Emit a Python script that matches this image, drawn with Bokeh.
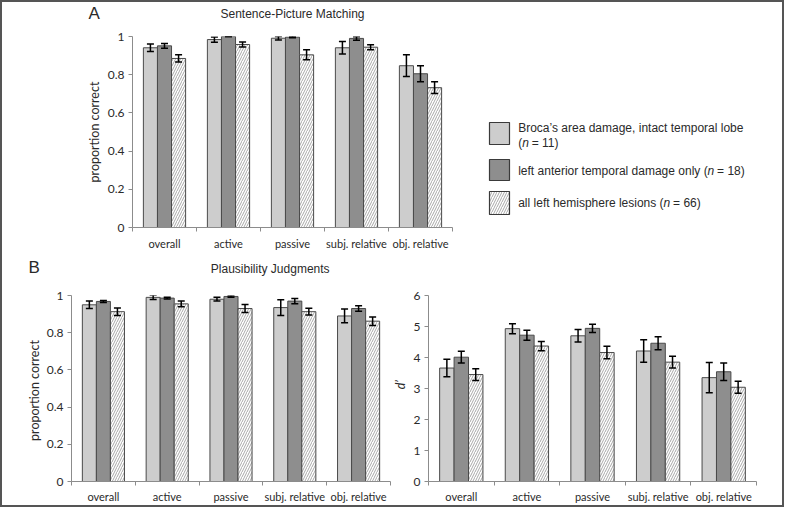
import numpy as np
from bokeh.plotting import figure
from bokeh.models import Range1d, FixedTicker, ColumnDataSource, Whisker, TeeHead
from bokeh.layouts import column, row
from bokeh.embed import file_html
from bokeh.resources import INLINE
from bokeh.core.properties import value

# ---------------- data ----------------
categories = ["overall", "active", "passive", "subj. relative", "obj. relative"]
group_names = ["Broca\u2019s area damage, intact temporal lobe",
               "left anterior temporal damage only",
               "all left hemisphere lesions"]
group_n = ["11", "18", "66"]

# A: Sentence-Picture Matching (proportion correct)
spm_broca = [0.941, 0.984, 0.991, 0.941, 0.847]
spm_broca_err = [0.020, 0.014, 0.009, 0.033, 0.057]
spm_temporal = [0.951, 1.000, 0.997, 0.990, 0.805]
spm_temporal_err = [0.013, 0.0, 0.003, 0.009, 0.042]
spm_all = [0.885, 0.958, 0.904, 0.944, 0.732]
spm_all_err = [0.019, 0.013, 0.026, 0.013, 0.031]

# B: Plausibility Judgments (proportion correct)
pj_broca = [0.950, 0.990, 0.980, 0.935, 0.890]
pj_broca_err = [0.020, 0.011, 0.010, 0.042, 0.037]
pj_temporal = [0.968, 0.986, 0.995, 0.970, 0.930]
pj_temporal_err = [0.005, 0.005, 0.004, 0.014, 0.015]
pj_all = [0.913, 0.955, 0.930, 0.913, 0.862]
pj_all_err = [0.020, 0.016, 0.021, 0.018, 0.023]

# B: Plausibility Judgments (d')
dp_broca = [3.66, 4.93, 4.70, 4.21, 3.35]
dp_broca_err = [0.28, 0.16, 0.20, 0.36, 0.49]
dp_temporal = [4.01, 4.72, 4.94, 4.46, 3.54]
dp_temporal_err = [0.19, 0.16, 0.13, 0.21, 0.28]
dp_all = [3.45, 4.37, 4.16, 3.85, 3.04]
dp_all_err = [0.19, 0.15, 0.20, 0.19, 0.19]

prop_ticks = [0, 0.2, 0.4, 0.6, 0.8, 1]
prop_tick_labels = ["0", "0.2", "0.4", "0.6", "0.8", "1"]
dp_ticks = [0, 1, 2, 3, 4, 5, 6]
dp_tick_labels = ["0", "1", "2", "3", "4", "5", "6"]

title_A = "Sentence-Picture Matching"
title_B = "Plausibility Judgments"
ylabel_prop = "proportion correct"
ylabel_dp = "d\u2019"

# ---------------- style ----------------
LIGHT = "#cdcdcd"
DARK = "#8e8e8e"
EDGE = "#4a4a4a"
AXIS = "#8c8c8c"
TXT = "#2a2a2a"
TICK_FONT = "Lato"
SANS = "Liberation Sans"
BAR_W = 0.22
OFFSETS = [-BAR_W, 0.0, BAR_W]
STYLES = [dict(fill_color=LIGHT),
          dict(fill_color=DARK),
          dict(fill_color="white", hatch_pattern="/", hatch_color="#a8a8a8",
               hatch_scale=5, hatch_weight=1)]


def panel(width, height, bl, br, bt, bb, ymax, yticks, ylabels, xlabel_standoff, series):
    p = figure(width=width, height=height, x_range=Range1d(0, len(categories)),
               y_range=Range1d(0, ymax), output_backend="svg", toolbar_location=None,
               min_border_left=bl, min_border_right=br, min_border_top=bt,
               min_border_bottom=bb)
    p.outline_line_color = None
    p.xgrid.visible = False
    p.ygrid.visible = False
    centers = [i + 0.5 for i in range(len(categories))]
    srcs = []
    for k, (vals, errs) in enumerate(series):
        v = np.array(vals, dtype=float)
        e = np.array(errs, dtype=float)
        src = ColumnDataSource(dict(x=[c + OFFSETS[k] for c in centers], top=v,
                                    upper=v + e, lower=v - e))
        p.vbar(x="x", top="top", bottom=0, width=BAR_W, source=src,
               line_color=EDGE, line_width=1, **STYLES[k])
        srcs.append(src)
    for src in srcs:
        w = Whisker(source=src, base="x", upper="upper", lower="lower",
                    line_color="black", line_width=1.5, level="overlay",
                    upper_head=TeeHead(size=7, line_color="black", line_width=1.5),
                    lower_head=TeeHead(size=7, line_color="black", line_width=1.5))
        p.add_layout(w)

    xa = p.xaxis[0]
    xa.ticker = FixedTicker(ticks=centers, minor_ticks=list(range(len(categories) + 1)))
    xa.major_label_overrides = {float(c): name for c, name in zip(centers, categories)}
    xa.major_tick_out = 0
    xa.major_tick_in = 0
    xa.minor_tick_out = 4
    xa.minor_tick_in = 0
    xa.axis_line_color = AXIS
    xa.minor_tick_line_color = AXIS
    xa.major_label_text_font = TICK_FONT
    xa.major_label_text_font_size = "11px"
    xa.major_label_text_color = TXT
    xa.major_label_standoff = xlabel_standoff

    ya = p.yaxis[0]
    ya.ticker = FixedTicker(ticks=yticks, minor_ticks=[])
    ya.major_label_overrides = {float(t): s for t, s in zip(yticks, ylabels)}
    ya.major_tick_out = 4
    ya.major_tick_in = 0
    ya.minor_tick_out = 0
    ya.minor_tick_in = 0
    ya.axis_line_color = AXIS
    ya.major_tick_line_color = AXIS
    ya.major_label_text_font = TICK_FONT
    ya.major_label_text_font_size = "12px"
    ya.major_label_text_color = TXT
    ya.major_label_standoff = 4
    return p


def textfig(x0, x1, y0, y1):
    """A blank canvas whose data coordinates are page pixels (for titles/labels)."""
    f = figure(width=x1 - x0, height=y1 - y0, x_range=Range1d(x0, x1),
               y_range=Range1d(y1, y0), output_backend="svg", toolbar_location=None,
               min_border_left=0, min_border_right=0, min_border_top=0,
               min_border_bottom=0)
    f.axis.visible = False
    f.grid.visible = False
    f.outline_line_color = None
    return f


def put(f, x, y, text, size="12px", font=SANS, style="normal", angle=0.0, align="center"):
    f.text(x=[x], y=[y], text=[text], angle=angle, text_font=value(font),
           text_font_size=size, text_font_style=style, text_color=TXT,
           text_align=align, text_baseline="middle")


# ---------------- top row: panel A + legend ----------------
sideA = textfig(10, 110, 10, 260)
put(sideA, 101.7, 20.5, "A", size="17px")
put(sideA, 102.3, 139.5, ylabel_prop, size="12.5px", font=TICK_FONT, angle=np.pi / 2)

hdrA = textfig(110, 490, 10, 34)
put(hdrA, 300, 21.7, title_A)

pA = panel(380, 226, 30, 30, 10, 25, 1, prop_ticks, prop_tick_labels, 5,
           [(spm_broca, spm_broca_err), (spm_temporal, spm_temporal_err),
            (spm_all, spm_all_err)])

pL = textfig(490, 790, 10, 260)
box_left, box_right = 497, 517
box_tops = [130, 167, 199]
box_bottoms = [152, 188, 222]
for k in range(3):
    pL.quad(left=[box_left], right=[box_right], top=[box_tops[k]], bottom=[box_bottoms[k]],
            line_color="#3a3a3a", line_width=1.2, **STYLES[k])

# Arial / Liberation Sans advance widths (1/1000 em), used to place the italic "n"
ADV = {"a": 556, "l": 222, "e": 556, "f": 278, "t": 278, "n": 556, "r": 333, "i": 222,
       "o": 556, "m": 833, "p": 556, "d": 556, "g": 556, "y": 500, "h": 556, "s": 500,
       "(": 333, " ": 278}
LEG_SIZE = 12.0


def tw(s):
    return sum(ADV.get(ch, 556) for ch in s) * LEG_SIZE / 1000.0


text_x = 525.7
put(pL, text_x, 135, group_names[0], align="left")
item_prefix = ["(", group_names[1] + " (", group_names[2] + " ("]
item_y = [150.5, 178, 210.5]
for k in range(3):
    pre = item_prefix[k]
    x_n = text_x + tw(pre)
    put(pL, text_x, item_y[k], pre, align="left")
    put(pL, x_n, item_y[k], "n", style="italic", align="left")
    put(pL, x_n + 9.5, item_y[k], "= " + group_n[k] + ")", align="left")

# ---------------- bottom row: panel B ----------------
sideB = textfig(10, 50, 260, 513)
put(sideB, 41.7, 275, "B", size="17px")
put(sideB, 41.7, 398, ylabel_prop, size="12.5px", font=TICK_FONT, angle=np.pi / 2)

hdrB = textfig(50, 790, 260, 290)
put(hdrB, 277.7, 276.7, title_B)

pB1 = panel(350, 223, 29, 2, 13, 19, 1, prop_ticks, prop_tick_labels, 4,
            [(pj_broca, pj_broca_err), (pj_temporal, pj_temporal_err),
             (pj_all, pj_all_err)])

sideB2 = textfig(400, 418, 290, 513)
put(sideB2, 407.7, 397, ylabel_dp, size="12.5px", font=TICK_FONT, style="italic",
    angle=np.pi / 2)

pB2 = panel(372, 223, 16, 26, 12, 22, 6, dp_ticks, dp_tick_labels, 4,
            [(dp_broca, dp_broca_err), (dp_temporal, dp_temporal_err),
             (dp_all, dp_all_err)])

top = row(sideA, column(hdrA, pA), pL)
bottom = row(sideB, column(hdrB, row(pB1, sideB2, pB2)))
layout = column(top, bottom, styles={"border": "2px solid #555555"})

open("out.html", "w").write(file_html(layout, INLINE))
